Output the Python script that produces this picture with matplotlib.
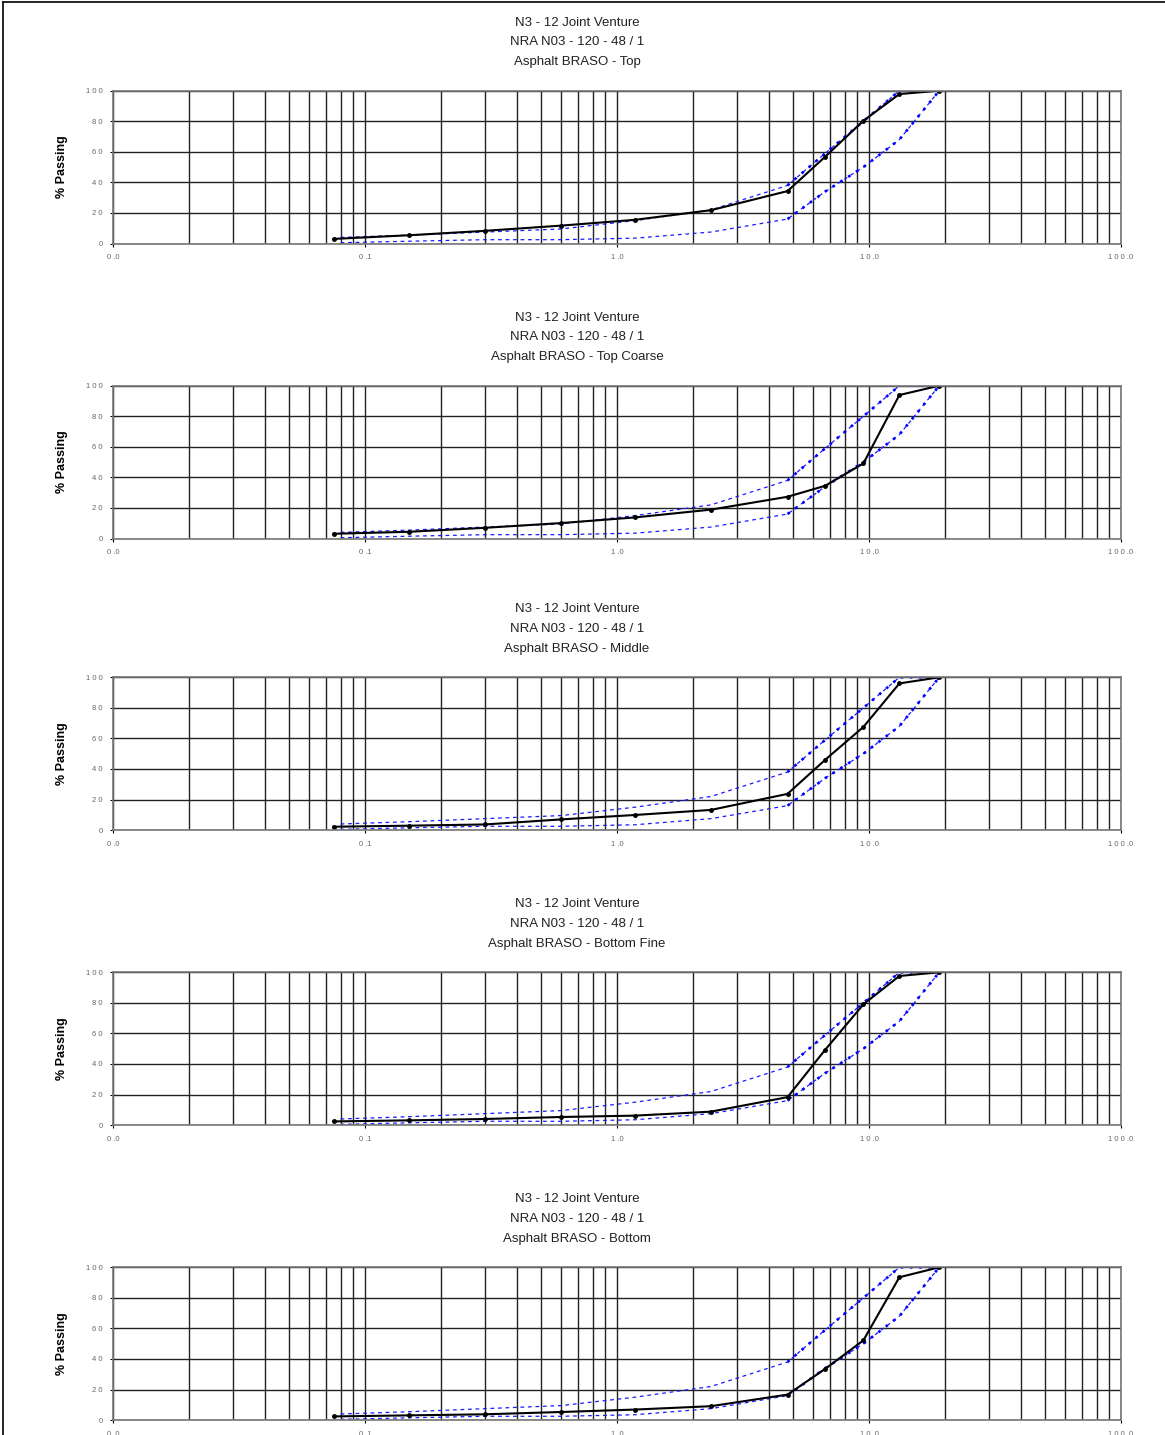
import numpy as np
import matplotlib
matplotlib.use("Agg")
from matplotlib import pyplot as plt
from matplotlib.lines import Line2D
from matplotlib.ticker import LogLocator, NullFormatter

plt.rcParams['font.family'] = ['Liberation Sans', 'DejaVu Sans']

# sieve sizes (mm)
sieve = [0.075, 0.15, 0.3, 0.6, 1.18, 2.36, 4.75, 6.7, 9.5, 13.2, 19]
env_sieve = [0.08, 0.15, 0.3, 0.6, 1.18, 2.36, 4.75, 6.7, 9.5, 13.2, 19]
env_upper = [4, 5.5, 7.5, 9.5, 15, 22, 38, 59, 80, 100, 100]
env_lower = [0.5, 1.5, 2.5, 2.5, 3.5, 7.5, 16, 34, 50, 68, 100]

top = [3.0, 5.4, 8.3, 11.7, 15.5, 21.8, 34.3, 56.8, 80.3, 97.8, 100]
top_coarse = [3.1, 4.4, 7.0, 10.1, 13.8, 18.9, 27.3, 34.5, 49.1, 93.9, 100]
middle = [2.2, 2.9, 3.7, 7.0, 9.9, 13.2, 23.7, 46.0, 67.5, 96.0, 100]
bottom_fine = [2.4, 3.1, 4.0, 5.3, 6.2, 8.8, 18.3, 49.3, 79.0, 97.6, 100]
bottom = [2.4, 3.1, 3.8, 5.3, 6.9, 9.1, 16.7, 33.5, 52.2, 93.5, 100]

title_1 = "N3 - 12 Joint Venture"
title_2 = "NRA N03 - 120 - 48 / 1"
layers = ["Asphalt BRASO - Top", "Asphalt BRASO - Top Coarse", "Asphalt BRASO - Middle",
          "Asphalt BRASO - Bottom Fine", "Asphalt BRASO - Bottom"]
series = [top, top_coarse, middle, bottom_fine, bottom]

xticks = [0.01, 0.1, 1, 10, 100]
xticklabels = ["0 .0", "0 .1", "1 .0", "1 0 .0", "1 0 0 .0"]
yticks = [0, 20, 40, 60, 80, 100]
yticklabels = ["0", "2 0", "4 0", "6 0", "8 0", "1 0 0"]

W, H = 1165, 1435
fig = plt.figure(figsize=(W / 100, H / 100), dpi=100)

# page frame (top and left edges)
fig.add_artist(Line2D([3 / W, 1], [1 - 2 / H, 1 - 2 / H], color='black', lw=1.2, transform=fig.transFigure))
fig.add_artist(Line2D([3 / W, 3 / W], [0, 1 - 2 / H], color='black', lw=1.2, transform=fig.transFigure))

ax_left, ax_right = 113, 1121
tops = [90.7, 385.7, 677.3, 972.3, 1267.3]
ph = 152.8

for k in range(5):
    t = tops[k]
    ax = fig.add_axes([ax_left / W, 1 - (t + ph) / H, (ax_right - ax_left) / W, ph / H])
    ax.set_xscale('log')
    ax.set_xlim(0.01, 100)
    ax.set_ylim(0, 100)
    ax.xaxis.set_major_locator(LogLocator(base=10))
    ax.xaxis.set_minor_locator(LogLocator(base=10, subs=np.arange(2, 10)))
    ax.xaxis.set_minor_formatter(NullFormatter())
    ax.set_xticks(xticks)
    ax.set_xticklabels(xticklabels)
    ax.set_yticks(yticks)
    ax.set_yticklabels(yticklabels)
    ax.grid(True, which='both', axis='x', color='#222222', lw=1.0)
    ax.grid(True, which='major', axis='y', color='#222222', lw=1.0)
    ax.tick_params(axis='both', which='major', length=2.5, width=0.8, labelsize=5.5,
                   labelcolor='#666666', pad=5)
    ax.tick_params(axis='x', which='minor', length=0)
    for s in ax.spines.values():
        s.set_color('#777777')
        s.set_linewidth(1.2)
    ax.set_axisbelow(True)

    # envelope lines
    ax.plot(env_sieve, env_upper, color='#1a1aff', lw=0.9, dashes=(3, 3))
    ax.plot(env_sieve, env_lower, color='#1a1aff', lw=0.9, dashes=(3, 3))
    ax.plot(env_sieve[6:], env_upper[6:], color='#0000ff', lw=1.9, dashes=(1, 2.5))
    ax.plot(env_sieve[6:], env_lower[6:], color='#0000ff', lw=1.9, dashes=(1, 2.5))

    # grading curve
    ax.plot(sieve, series[k], color='black', lw=1.5, marker='o', markersize=2.5)

    ax.set_ylabel("% Passing", fontsize=9, fontweight='bold', labelpad=13,
                  fontstretch='condensed')

    cx = 577 / W
    fig.text(cx, 1 - (t - 68) / H, title_1, ha='center', va='center', fontsize=9.5, color='#222222')
    fig.text(cx, 1 - (t - 48.5) / H, title_2, ha='center', va='center', fontsize=9.5, color='#222222')
    fig.text(cx, 1 - (t - 28.5) / H, layers[k], ha='center', va='center', fontsize=9.5, color='#222222')

fig.savefig("out.png", dpi=100)
